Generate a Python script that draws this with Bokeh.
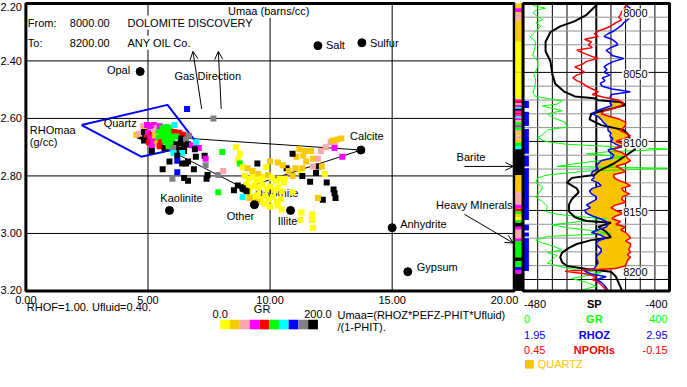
import numpy as np
from bokeh.plotting import figure
from bokeh.models import Range1d, Arrow, OpenHead
from bokeh.core.properties import value
from bokeh.embed import file_html
from bokeh.resources import INLINE

# ---------------------------------------------------------------- data
umaa_ticks = [0, 5, 10, 15, 20]
umaa_tick_labels = ["0.00", "5.00", "10.00", "15.00", "20.00"]
rho_ticks = [2.2, 2.4, 2.6, 2.8, 3.0, 3.2]
rho_tick_labels = ["2.20", "2.40", "2.60", "2.80", "3.00", "3.20"]

gr_bins = [0, 20, 40, 60, 80, 100, 120, 140, 160, 180, 200]
gr_palette = ["#FFFF00", "#F8C800", "#F8A8A8", "#FF00FF", "#FF0000",
              "#00FF00", "#00FFFF", "#0000FF", "#808080", "#000000"]

pt_umaa = [4.52, 4.64, 4.80, 4.88, 4.96, 5.08, 5.24, 5.36, 5.48, 5.60,
           5.76, 5.92, 6.08, 4.84, 5.00, 5.16, 5.28, 5.44, 5.60, 5.76,
           5.92, 6.08, 6.28, 6.44, 4.96, 5.12, 5.28, 5.44, 5.60, 5.76,
           5.92, 6.16, 6.36, 6.56, 6.68, 4.84, 5.04, 5.20, 5.36, 5.52,
           5.68, 5.84, 6.00, 6.16, 6.32, 6.48, 6.64, 6.80, 6.96, 7.08,
           6.92, 5.16, 5.48, 5.68, 5.84, 6.04, 6.28, 6.48, 5.16, 6.04,
           6.40, 6.20, 5.88, 6.20, 6.40, 6.64, 6.96, 7.32, 7.36, 5.60,
           6.88, 7.36, 6.20, 6.00, 6.48, 6.64, 7.44, 7.40, 6.56, 8.04,
           7.88, 8.08, 7.88, 6.60, 7.68, 8.60, 8.76, 8.68, 8.76, 8.88,
           9.08, 9.28, 9.48, 9.52, 10.00, 10.32, 8.96, 9.12, 9.28, 9.44,
           9.60, 9.76, 9.92, 10.08, 10.24, 10.40, 10.56, 9.04, 9.20, 9.36,
           9.52, 9.68, 9.84, 10.00, 10.16, 10.32, 10.48, 9.12, 9.32, 9.48,
           9.64, 9.80, 9.96, 10.12, 10.28, 10.44, 9.76, 10.00, 10.32, 10.48,
           9.48, 8.52, 8.68, 8.88, 9.04, 8.88, 9.16, 10.92, 11.28, 11.72,
           11.72, 11.24, 11.76, 10.60, 11.24, 12.24, 10.92, 11.04, 11.32, 11.48,
           11.76, 11.36, 11.08, 11.20, 11.44, 11.68, 10.92, 10.68, 11.32, 11.64,
           11.88, 11.96, 11.76, 12.12, 11.96, 12.08, 12.28, 12.48, 12.64, 12.64,
           12.76, 12.92, 12.56, 12.96, 12.32, 12.60, 12.64, 12.68, 12.16, 11.96,
           9.84, 10.76, 10.52]
pt_rho = [2.657, 2.653, 2.627, 2.637, 2.623, 2.627, 2.623, 2.633, 2.627, 2.633,
          2.630, 2.633, 2.623, 2.647, 2.650, 2.657, 2.647, 2.647, 2.650, 2.647,
          2.650, 2.647, 2.650, 2.657, 2.667, 2.670, 2.663, 2.667, 2.663, 2.667,
          2.663, 2.663, 2.670, 2.673, 2.660, 2.677, 2.683, 2.680, 2.687, 2.683,
          2.680, 2.683, 2.683, 2.690, 2.687, 2.693, 2.690, 2.693, 2.683, 2.703,
          2.707, 2.697, 2.697, 2.703, 2.697, 2.703, 2.710, 2.713, 2.713, 2.720,
          2.720, 2.730, 2.750, 2.747, 2.757, 2.750, 2.733, 2.730, 2.740, 2.777,
          2.777, 2.763, 2.787, 2.810, 2.807, 2.817, 2.797, 2.810, 2.757, 2.717,
          2.797, 2.783, 2.857, 2.567, 2.600, 2.700, 2.723, 2.743, 2.757, 2.770,
          2.773, 2.783, 2.757, 2.793, 2.750, 2.753, 2.800, 2.810, 2.803, 2.817,
          2.810, 2.803, 2.797, 2.807, 2.817, 2.810, 2.823, 2.830, 2.840, 2.833,
          2.843, 2.830, 2.847, 2.837, 2.850, 2.840, 2.853, 2.860, 2.873, 2.867,
          2.880, 2.870, 2.883, 2.873, 2.890, 2.880, 2.897, 2.907, 2.903, 2.917,
          2.890, 2.850, 2.833, 2.843, 2.853, 2.873, 2.877, 2.857, 2.927, 2.933,
          2.953, 2.953, 2.980, 2.810, 2.787, 2.793, 2.800, 2.773, 2.773, 2.750,
          2.740, 2.730, 2.733, 2.707, 2.713, 2.713, 2.723, 2.773, 2.800, 2.820,
          2.790, 2.767, 2.767, 2.767, 2.740, 2.713, 2.700, 2.683, 2.690, 2.703,
          2.673, 2.670, 2.677, 2.733, 2.823, 2.847, 2.860, 2.877, 2.883, 2.877,
          2.770, 2.783, 2.763]
pt_gr = [30, 50, 50, 30, 70, 70, 70, 50, 70, 110,
         110, 110, 130, 190, 70, 90, 50, 110, 110, 110,
         110, 90, 90, 90, 90, 70, 30, 110, 110, 110,
         110, 110, 190, 170, 170, 190, 90, 70, 30, 90,
         110, 110, 110, 190, 190, 190, 190, 70, 130, 70,
         190, 70, 90, 190, 110, 170, 190, 190, 190, 130,
         130, 190, 190, 150, 190, 190, 190, 190, 70, 190,
         190, 170, 150, 170, 190, 190, 190, 190, 190, 110,
         170, 50, 110, 150, 170, 10, 10, 10, 110, 10,
         30, 30, 190, 30, 30, 30, 10, 10, 10, 10,
         10, 10, 30, 10, 10, 10, 10, 10, 10, 10,
         10, 10, 10, 10, 10, 10, 10, 10, 10, 10,
         10, 10, 10, 10, 10, 10, 10, 10, 10, 10,
         30, 190, 190, 190, 190, 130, 30, 10, 10, 10,
         10, 10, 10, 10, 10, 10, 30, 30, 30, 30,
         30, 30, 30, 30, 30, 30, 190, 190, 190, 190,
         190, 190, 50, 30, 50, 50, 50, 50, 50, 70,
         30, 30, 30, 70, 190, 190, 190, 190, 190, 30,
         10, 30, 30]

mineral_names = ["Opal", "Salt", "Sulfur", "Calcite", "Quartz", "Dolomite",
                 "Kaolinite", "Other", "Illite", "Anhydrite", "Gypsum"]
mineral_umaa = [4.68, 11.96, 13.76, 13.72, 4.68, 8.92, 5.88, 9.36, 10.84, 15.00, 15.64]
mineral_rho = [2.437, 2.347, 2.337, 2.710, 2.658, 2.843, 2.920, 2.900, 2.920, 2.980, 3.133]

quartz_poly_umaa = [2.28, 5.80, 7.04, 4.72, 2.28]
quartz_poly_rho = [2.623, 2.553, 2.690, 2.733, 2.623]
triangle_umaa = [4.68, 13.72, 8.92, 4.68]
triangle_rho = [2.658, 2.710, 2.843, 2.658]

gas_u0 = [7.20, 8.00]
gas_r0 = [2.567, 2.567]
gas_u1 = [6.84, 7.88]
gas_r1 = [2.367, 2.367]

callout_names = ["Barite", "Heavy MInerals"]
callout_depth_from = [8118.1, 8152.8]
callout_depth_to = [8118.1, 8173.6]

# log track
curve_names = ["SP", "GR", "RHOZ", "NPORls"]
curve_left = [-480, 0, 1.95, 0.45]
curve_right = [-400, 400, 2.95, -0.15]
curve_left_labels = ["-480", "0", "1.95", "0.45"]
curve_right_labels = ["-400", "400", "2.95", "-0.15"]
curve_colors = ["#000000", "#00FF00", "#0000FF", "#FF0000"]

depth_top, depth_base = 8000, 8208.3
depth_label_values = [8000, 8050, 8100, 8150, 8200]

sp_depth = [8000.0, 8001.4, 8008.3, 8013.2, 8016.7, 8020.8, 8023.6, 8027.8, 8034.7, 8041.7,
            8051.4, 8058.3, 8063.9, 8067.4, 8068.8, 8070.1, 8071.5, 8073.6, 8076.4, 8079.9,
            8084.0, 8088.2, 8091.7, 8095.1, 8100.7, 8105.6, 8110.4, 8116.0, 8121.5, 8124.3,
            8126.4, 8129.9, 8134.0, 8136.8, 8141.7, 8145.8, 8150.7, 8154.9, 8157.6, 8159.0,
            8161.8, 8165.3, 8169.4, 8171.5, 8174.3, 8177.1, 8180.6, 8184.0, 8187.5, 8190.3,
            8192.4, 8194.4, 8197.9, 8202.8, 8207.6]
sp_val = [-440.0, -440.0, -445.3, -452.3, -459.7, -465.1, -466.1, -467.7, -467.7, -465.1,
          -464.0, -462.4, -457.6, -451.7, -441.1, -438.9, -426.7, -424.0, -432.0, -442.7,
          -443.7, -437.3, -425.1, -422.4, -421.3, -418.7, -424.0, -430.4, -438.9, -441.1,
          -453.3, -456.0, -450.7, -449.6, -453.3, -454.9, -454.9, -451.7, -445.3, -432.0,
          -438.9, -434.7, -432.0, -442.7, -450.7, -454.9, -458.7, -459.7, -458.7, -456.0,
          -445.3, -432.0, -429.3, -427.7, -426.1]

gr_depth = [8000.0, 8001.4, 8003.5, 8004.9, 8006.9, 8009.7, 8011.8, 8013.9, 8016.7, 8020.1,
            8022.2, 8024.3, 8027.8, 8032.6, 8037.5, 8041.7, 8046.5, 8051.4, 8055.6, 8060.4,
            8065.3, 8067.4, 8070.8, 8072.9, 8074.3, 8077.8, 8079.9, 8082.6, 8086.1, 8089.6,
            8091.7, 8095.1, 8097.2, 8100.0, 8102.1, 8104.2, 8105.6, 8107.6, 8109.0, 8111.1,
            8113.2, 8116.0, 8118.1, 8119.4, 8121.5, 8124.3, 8126.4, 8129.9, 8133.3, 8136.8,
            8140.3, 8143.8, 8147.2, 8150.7, 8152.8, 8154.9, 8156.3, 8158.3, 8160.4, 8162.5,
            8164.6, 8166.7, 8168.8, 8171.5, 8173.6, 8175.7, 8178.5, 8180.6, 8182.6, 8185.4,
            8188.2, 8191.0, 8193.1, 8195.1, 8197.2, 8199.3, 8202.1, 8204.9, 8207.6]
gr_val = [26.7, 26.7, 61.3, 34.7, 26.7, 40.0, 53.3, 34.7, 48.0, 34.7,
          26.7, 18.7, 34.7, 32.0, 26.7, 40.0, 40.0, 29.3, 34.7, 32.0,
          26.7, 34.7, 106.7, 93.3, 53.3, 106.7, 66.7, 80.0, 114.7, 120.0,
          66.7, 53.3, 40.0, 61.3, 120.0, 280.0, 400.0, 226.7, 173.3, 280.0,
          226.7, 146.7, 93.3, 400.0, 173.3, 66.7, 40.0, 34.7, 53.3, 45.3,
          34.7, 53.3, 66.7, 61.3, 93.3, 173.3, 226.7, 146.7, 80.0, 120.0,
          186.7, 240.0, 66.7, 34.7, 53.3, 80.0, 106.7, 66.7, 93.3, 80.0,
          66.7, 106.7, 146.7, 213.3, 173.3, 133.3, 173.3, 200.0, 160.0]

log_depth = list(range(8000, 8210, 2))
rhoz = [2.637, 2.663, 2.683, 2.670, 2.677, 2.683, 2.663, 2.637, 2.623, 2.597,
        2.570, 2.530, 2.503, 2.557, 2.583, 2.597, 2.550, 2.517, 2.543, 2.563,
        2.637, 2.570, 2.530, 2.503, 2.523, 2.503, 2.543, 2.490, 2.510, 2.477,
        2.490, 2.557, 2.683, 2.557, 2.543, 2.570, 2.543, 2.557, 2.503, 2.450,
        2.423, 2.463, 2.483, 2.497, 2.517, 2.530, 2.530, 2.550, 2.543, 2.563,
        2.550, 2.583, 2.623, 2.530, 2.543, 2.570, 2.557, 2.483, 2.463, 2.450,
        2.463, 2.423, 2.417, 2.437, 2.417, 2.463, 2.483, 2.423, 2.403, 2.417,
        2.450, 2.450, 2.417, 2.383, 2.410, 2.370, 2.383, 2.423, 2.477, 2.517,
        2.530, 2.517, 2.463, 2.417, 2.483, 2.517, 2.463, 2.450, 2.463, 2.483,
        2.483, 2.463, 2.450, 2.457, 2.463, 2.450, 2.437, 2.370, 2.417, 2.517,
        2.450, 2.483, 2.503, 2.517, 2.530]
npor = [0.018, 0.030, 0.038, 0.046, 0.050, 0.058, 0.046, 0.070, 0.086, 0.110,
        0.142, 0.158, 0.142, 0.198, 0.170, 0.182, 0.166, 0.230, 0.202, 0.174,
        0.142, 0.190, 0.206, 0.238, 0.214, 0.198, 0.230, 0.246, 0.230, 0.206,
        0.190, 0.166, 0.142, 0.166, 0.118, 0.062, 0.038, 0.046, 0.078, 0.118,
        0.130, 0.094, 0.054, 0.030, 0.030, 0.038, 0.054, 0.030, 0.010, 0.038,
        0.070, 0.030, 0.062, 0.078, 0.046, 0.030, 0.022, 0.010, 0.030, 0.070,
        0.046, 0.030, 0.078, 0.078, 0.062, 0.030, 0.010, 0.046, 0.038, 0.014,
        0.042, 0.046, 0.030, 0.070, 0.090, 0.070, 0.038, 0.070, 0.086, 0.050,
        0.070, 0.030, 0.050, 0.030, 0.018, 0.010, 0.030, 0.010, 0.010, 0.018,
        0.010, 0.022, 0.010, 0.022, 0.026, 0.030, 0.070, 0.278, 0.190, 0.150,
        0.166, 0.142, 0.130, 0.118, 0.110]

litho_top = [8000, 8003.5, 8006.3, 8007.6, 8012.5, 8027.8, 8049.3, 8050.7, 8069.4, 8070.8,
             8072.2, 8073.6, 8075.0, 8076.4, 8077.8, 8079.2, 8080.6, 8081.9, 8083.3, 8084.7,
             8086.1, 8088.2, 8089.6, 8091.7, 8093.8, 8095.8, 8098.6, 8100.7, 8103.5, 8105.6,
             8124.3, 8136.8, 8145.8, 8148.6, 8150.7, 8152.8, 8154.9, 8156.9, 8159.0, 8161.8,
             8163.9, 8170.1, 8172.2, 8184.0, 8186.8, 8191.0, 8193.1, 8195.8]
litho_gr = [30, 70, 30, 50, 30, 10, 30, 10, 70, 90,
            50, 70, 130, 190, 70, 90, 70, 130, 70, 50,
            110, 70, 110, 50, 30, 50, 30, 110, 130, 190,
            30, 50, 70, 90, 110, 30, 10, 110, 190, 70,
            50, 70, 110, 190, 110, 150, 70, 190]

flag_top = [8070.8, 8078.5, 8091.0, 8110.4, 8119.4, 8160.4, 8166.0, 8170.1]
flag_base = [8075.7, 8088.9, 8109.0, 8118.1, 8156.9, 8164.6, 8168.8, 8193.8]

QUARTZ_COLOR = "#F8C400"

# ---------------------------------------------------------------- figure
REF_W, REF_H = 687, 387
FONT = value("Liberation Sans")
FS = "11px"


def gr_color(g):
    return gr_palette[min(int(g // 20), 9)]


def lin_range(va, vb, pa, pb, lo, hi):
    k = (vb - va) / (pb - pa)
    return Range1d(start=va + (lo - pa) * k, end=va + (hi - pa) * k)


p = figure(width=671, height=371, x_range=Range1d(0, REF_W), y_range=Range1d(REF_H, 0),
           x_axis_type=None, y_axis_type=None, output_backend="svg",
           toolbar_location=None, min_border=0, outline_line_color=None)
p.min_border_left = p.min_border_right = p.min_border_top = p.min_border_bottom = 0
p.background_fill_color = "white"
p.border_fill_color = "white"

XP_L, XP_R, XP_T, XP_B = 26, 526, 3, 303
TR_L, TR_R = 535, 685
p.extra_x_ranges = {
    "umaa": lin_range(umaa_ticks[0], umaa_ticks[-1], XP_L, XP_R, 0, REF_W),
    "trk": lin_range(0, 150, TR_L, TR_R, 0, REF_W),
    "sp": lin_range(curve_left[0], curve_right[0], TR_L, TR_R, 0, REF_W),
    "gr": lin_range(curve_left[1], curve_right[1], TR_L, TR_R, 0, REF_W),
    "rhoz": lin_range(curve_left[2], curve_right[2], TR_L, TR_R, 0, REF_W),
    "npor": lin_range(curve_left[3], curve_right[3], TR_L, TR_R, 0, REF_W),
    "grbar": lin_range(gr_bins[0], gr_bins[-1], 225, 325, 0, REF_W),
}
p.extra_y_ranges = {
    "rho": lin_range(rho_ticks[0], rho_ticks[-1], XP_T, XP_B, REF_H, 0),
    "depth": lin_range(8000, 8200, 3, 291, REF_H, 0),
}


def put_text(xs, ys, texts, xr="default", yr="default", align="left", color="black",
             bold=False, bg=None, dx=0, dy=0, size=FS):
    kw = dict(x=xs, y=ys, text=texts, x_range_name=xr, y_range_name=yr,
              text_align=align, text_baseline="middle", text_color=color,
              text_font=FONT, text_font_size=size,
              text_font_style="bold" if bold else "normal",
              x_offset=dx, y_offset=dy)
    if bg:
        kw.update(background_fill_color=bg, padding=1)
    return p.text(**kw)


XP = dict(x_range_name="umaa", y_range_name="rho")

# ---- crossplot grid
vx = umaa_ticks[1:-1]
p.segment(x0=vx, y0=[rho_ticks[0]] * len(vx), x1=vx, y1=[rho_ticks[-1]] * len(vx),
          line_color="black", line_width=1, **XP)
hy = rho_ticks[1:-1]
p.segment(x0=[umaa_ticks[0]] * len(hy), y0=hy, x1=[umaa_ticks[-1]] * len(hy), y1=hy,
          line_color="black", line_width=1, **XP)

# ---- lines / polygon
p.line(triangle_umaa, triangle_rho, line_color="black", line_width=1, **XP)
p.line(quartz_poly_umaa, quartz_poly_rho, line_color="#0000FF", line_width=2, **XP)

hidden = [n in ("Quartz", "Dolomite") for n in mineral_names]
mu_h = [u for u, h in zip(mineral_umaa, hidden) if h]
mr_h = [r for r, h in zip(mineral_rho, hidden) if h]
p.scatter(mu_h, mr_h, marker="circle", size=8, color="black", **XP)

label_align = ["right", "left", "left", "center", "center", "center",
               "center", "center", "center", "left", "left"]
label_dx = [-10, 8, 8, 6, -20, 33, 12, -14, -3, 8, 9]
label_dy = [-2, -1, 0, -14, -12, 5, -12, 11, 11, -4, -5]

for i, n in enumerate(mineral_names):
    if hidden[i]:
        put_text([mineral_umaa[i]], [mineral_rho[i]], [n], xr="umaa", yr="rho",
                 align=label_align[i], dx=label_dx[i], dy=label_dy[i])

# ---- data points
p.scatter(pt_umaa, pt_rho, marker="square", size=6, line_color=None,
          fill_color=[gr_color(g) for g in pt_gr], **XP)

mu_v = [u for u, h in zip(mineral_umaa, hidden) if not h]
mr_v = [r for r, h in zip(mineral_rho, hidden) if not h]
p.scatter(mu_v, mr_v, marker="circle", size=8, color="black", **XP)
for i, n in enumerate(mineral_names):
    if not hidden[i]:
        put_text([mineral_umaa[i]], [mineral_rho[i]], [n], xr="umaa", yr="rho",
                 align=label_align[i], dx=label_dx[i], dy=label_dy[i])

# ---- gas direction arrows
for u0, r0, u1, r1 in zip(gas_u0, gas_r0, gas_u1, gas_r1):
    p.add_layout(Arrow(end=OpenHead(size=8, line_width=1, line_color="black"),
                       x_start=u0, y_start=r0, x_end=u1, y_end=r1,
                       line_width=1, line_color="black", **XP))
put_text([177], [79], ["Gas Direction"], bg="white")

# ---- header text
put_text([27, 70, 129], [23, 23, 23], ["From:", "8000.00", "DOLOMITE DISCOVERY"], bg="white")
put_text([27, 70, 129], [44, 44, 44], ["To:", "8200.00", "ANY OIL Co."], bg="white")
put_text([232], [11], ["Umaa (barns/cc)"], bg="white")
put_text([30, 30], [135, 148], ["RHOmaa", "(g/cc)"])

# ---- callout arrows to litho column
for name, d0, d1 in zip(callout_names, callout_depth_from, callout_depth_to):
    p.add_layout(Arrow(end=OpenHead(size=8, line_width=1, line_color="black"),
                       x_start=475, y_start=d0, x_end=525, y_end=d1,
                       line_width=1, line_color="black", y_range_name="depth"))
put_text([467], [163], [callout_names[0]])
put_text([446], [213], [callout_names[1]])

# ---- crossplot frame + tick labels
p.quad(left=[umaa_ticks[0]], right=[umaa_ticks[-1]], top=[rho_ticks[0]], bottom=[rho_ticks[-1]],
       fill_color=None, line_color="black", line_width=3, **XP)
put_text([umaa_ticks[0]] * len(rho_ticks), rho_ticks, rho_tick_labels, xr="umaa", yr="rho",
         align="right", dx=-4, dy=[4, 0, 0, 0, 0, -1])
put_text(umaa_ticks[:-1], [rho_ticks[-1]] * 4, umaa_tick_labels[:-1], xr="umaa", yr="rho",
         align="center", dy=9)
put_text([umaa_ticks[-1]], [rho_ticks[-1]], [umaa_tick_labels[-1]], xr="umaa", yr="rho",
         align="right", dx=4, dy=9)

# ---- log track
TRK = dict(x_range_name="trk", y_range_name="depth")
p.quad(left=-8, right=-1, top=litho_top, bottom=litho_top[1:] + [depth_base],
       fill_color=[gr_color(g) for g in litho_gr], line_color=None, **TRK)

gx = [15, 30, 45, 60, 90, 105, 120, 135]
p.segment(x0=gx, y0=[depth_top] * len(gx), x1=gx, y1=[depth_base] * len(gx),
          line_color="black", line_width=1, **TRK)
p.segment(x0=[75], y0=[depth_top], x1=[75], y1=[depth_base], line_color="black",
          line_width=2, **TRK)
gd = list(range(8010, 8210, 10))
p.segment(x0=[0] * len(gd), y0=gd, x1=[150] * len(gd), y1=gd,
          line_color=["black" if d % 50 == 0 else "#909090" for d in gd], line_width=1, **TRK)

p.quad(left=0, right=6, top=flag_top, bottom=flag_base, fill_color="#0000FF",
       line_color=None, **TRK)

rho_arr = np.array(rhoz)
npor_in_rho = curve_left[2] + (curve_left[3] - np.array(npor)) / (curve_left[3] - curve_right[3]) \
    * (curve_right[2] - curve_left[2])
p.harea(y=log_depth, x1=rho_arr, x2=np.maximum(npor_in_rho, rho_arr), fill_color=QUARTZ_COLOR,
        x_range_name="rhoz", y_range_name="depth")

p.line(gr_val, gr_depth, line_color=curve_colors[1], line_width=1,
       x_range_name="gr", y_range_name="depth")
p.line(sp_val, sp_depth, line_color=curve_colors[0], line_width=2,
       x_range_name="sp", y_range_name="depth")
p.line(rhoz, log_depth, line_color=curve_colors[2], line_width=1.5,
       x_range_name="rhoz", y_range_name="depth")
p.line(npor, log_depth, line_color=curve_colors[3], line_width=1.5,
       x_range_name="npor", y_range_name="depth")

put_text([115] * len(depth_label_values), depth_label_values,
         [str(d) for d in depth_label_values], xr="trk", yr="depth", align="center",
         bg="white", dy=[10, 2, 2, 2, -7])

p.quad(left=[0], right=[150], top=[depth_top], bottom=[depth_base], fill_color=None,
       line_color="black", line_width=3, **TRK)

# ---- track header (scales)
rows_y = [316.5, 332.5, 349, 365]
for name, lft, rgt, col, yy in zip(curve_names, curve_left_labels, curve_right_labels,
                                   curve_colors, rows_y):
    put_text([1], [yy], [lft], xr="trk", color=col)
    put_text([73], [yy], [name], xr="trk", color=col, align="center", bold=True)
    put_text([148], [yy], [rgt], xr="trk", color=col, align="right")
p.quad(left=[2], right=[11], top=[375], bottom=[384], fill_color=QUARTZ_COLOR,
       line_color=None, x_range_name="trk")
put_text([15], [379.5], ["QUARTZ"], xr="trk", color=QUARTZ_COLOR)

# ---- GR colour bar + notes
p.quad(left=gr_bins[:-1], right=gr_bins[1:], top=333, bottom=343,
       fill_color=gr_palette, line_color=None, x_range_name="grbar")
put_text([gr_bins[0], gr_bins[-1]], [327, 327], ["0.0", "200.0"], xr="grbar", align="center")
put_text([(gr_bins[0] + gr_bins[-1]) / 2], [322], ["GR"], xr="grbar", align="center", dx=-7)
put_text([27], [320], ["RHOF=1.00.  Ufluid=0.40."])
put_text([345, 345], [328, 341], ["Umaa=(RHOZ*PEFZ-PHIT*Ufluid)", "/(1-PHIT)."])

open("out.html", "w").write(file_html(p, INLINE, "Umaa RHOmaa crossplot"))
